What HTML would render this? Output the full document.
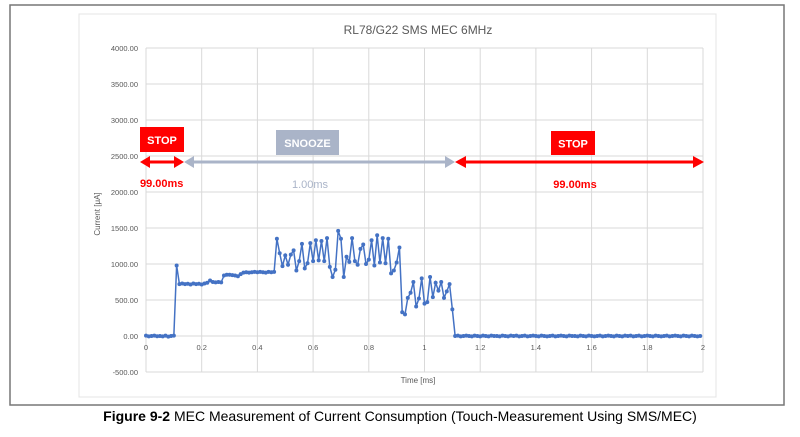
<!DOCTYPE html>
<html><head><meta charset="utf-8"><style>
body{margin:0;background:#fff;width:800px;height:432px;overflow:hidden;font-family:"Liberation Sans",sans-serif}
</style></head><body>
<svg id="chart" width="800" height="432" xmlns="http://www.w3.org/2000/svg" font-family="Liberation Sans, sans-serif">
<rect x="10" y="5" width="774" height="400" fill="#fff" stroke="#777" stroke-width="1.5"/>
<rect x="79" y="14" width="637" height="383" fill="#fff" stroke="#e4e4e4" stroke-width="1"/>
<text x="418" y="34" font-size="12" fill="#595959" text-anchor="middle">RL78/G22 SMS MEC 6MHz</text>
<g id="grid"></g><g id="axes"></g><g id="series"></g>
<text transform="translate(100,214) rotate(-90)" font-size="8" fill="#595959" text-anchor="middle">Current [μA]</text>
<text x="418" y="383" font-size="8" fill="#595959" text-anchor="middle">Time [ms]</text>
<g>
<rect x="140" y="127" width="44" height="25" fill="#ff0000"/>
<text x="162" y="144" font-size="11" font-weight="bold" fill="#fff" text-anchor="middle">STOP</text>
<rect x="276" y="130" width="63" height="25" fill="#aab4c8"/>
<text x="307.5" y="147" font-size="11" font-weight="bold" fill="#fff" text-anchor="middle">SNOOZE</text>
<rect x="551" y="131" width="44" height="24" fill="#ff0000"/>
<text x="573" y="147.5" font-size="11" font-weight="bold" fill="#fff" text-anchor="middle">STOP</text>
<g fill="#ff0000" stroke="#ff0000">
<line x1="146" y1="162" x2="178" y2="162" stroke-width="3"/>
<polygon points="140,162 150,156 150,168" stroke="none"/><polygon points="184,162 174,156 174,168" stroke="none"/></g>
<g fill="#aab4c8" stroke="#aab4c8">
<line x1="190" y1="162" x2="448" y2="162" stroke-width="3"/>
<polygon points="184,162 194,156 194,168" stroke="none"/><polygon points="455,162 445,156 445,168" stroke="none"/></g>
<g fill="#ff0000" stroke="#ff0000">
<line x1="462" y1="162" x2="697" y2="162" stroke-width="3"/>
<polygon points="455,162 466,156 466,168" stroke="none"/><polygon points="704,162 693,156 693,168" stroke="none"/></g>
<text x="140" y="187" font-size="11" font-weight="bold" fill="#ff0000">99.00ms</text>
<text x="310" y="188" font-size="11" fill="#aab4c8" text-anchor="middle">1.00ms</text>
<text x="575" y="188" font-size="11" font-weight="bold" fill="#ff0000" text-anchor="middle">99.00ms</text>
</g>
<text x="400" y="421" font-size="14" fill="#000" text-anchor="middle"><tspan font-weight="bold">Figure 9-2</tspan> MEC Measurement of Current Consumption (Touch-Measurement Using SMS/MEC)</text>
</svg>
<script>
const yTicks=[-500,0,500,1000,1500,2000,2500,3000,3500,4000];
const xTicks=[0,0.2,0.4,0.6,0.8,1,1.2,1.4,1.6,1.8,2];
const xTickLabels=["0","0.2","0.4","0.6","0.8","1","1.2","1.4","1.6","1.8","2"];
const timeStep=0.01;
const current=[5,-5,0,5,-3,0,-5,5,-8,0,5,
980,720,730,720,725,715,730,720,725,715,
730,740,770,750,745,750,745,840,850,850,
845,840,830,860,880,885,880,885,890,885,
890,885,880,890,885,890,
1350,1150,970,1120,990,1130,1190,910,1040,1280,
940,1010,1290,1040,1330,1050,1320,1040,1360,960,
820,920,1460,1350,820,1100,1030,1360,1040,990,
1210,1270,1000,1060,1330,980,1400,1020,1360,1010,
1350,870,910,1020,1230,330,300,530,600,750,
410,520,800,450,470,820,540,740,630,750,
530,620,720,370,
0,5,-5,0,5,0,-5,5,0,-5,
5,0,-5,5,0,0,-5,5,0,-5,
5,0,5,-5,0,5,-5,0,5,0,
-5,5,0,-5,0,5,-5,0,5,0,
-5,5,0,0,-5,5,0,-5,5,0,
-5,0,5,-5,0,5,0,-5,5,0,
-5,5,0,5,-5,0,5,-5,0,5,
0,-5,5,0,-5,0,5,-5,0,5,
0,-5,5,0,-5,5,0,-5,0];
const X0=146,X1=703,Y0=336,YPX=36/500;
const sx=v=>X0+(X1-X0)*v/2;
const sy=v=>Y0-v*YPX;
const NS="http://www.w3.org/2000/svg";
function mk(tag,attrs,parent,txt){const e=document.createElementNS(NS,tag);for(const k in attrs)e.setAttribute(k,attrs[k]);if(txt!==undefined)e.textContent=txt;parent.appendChild(e);return e;}
const grid=document.getElementById('grid'),axes=document.getElementById('axes'),ser=document.getElementById('series');
yTicks.forEach(t=>{
 const l=mk('line',{x1:X0,x2:X1,y1:sy(t),y2:sy(t),stroke:'#d9d9d9','stroke-width':1},grid);
 
 
 const tx=mk('text',{x:X0-8,y:sy(t)+3,'font-size':7.5,fill:'#595959','text-anchor':'end'},axes,t.toFixed(2));
 
 
});
xTicks.forEach((t,i)=>{
 const l=mk('line',{x1:sx(t),x2:sx(t),y1:sy(4000),y2:sy(-500),stroke:'#d9d9d9','stroke-width':1},grid);
 
 
 const tx=mk('text',{x:sx(t),y:sy(0)+14,'font-size':7.5,fill:'#595959','text-anchor':'middle'},axes,xTickLabels[i]);
 
 
});
const pts=current.map((v,i)=>sx(i*timeStep).toFixed(2)+','+sy(v).toFixed(2)).join(' ');
const pl=mk('polyline',{points:pts,fill:'none',stroke:'#4472c4','stroke-width':1.5},ser);


current.forEach((v,i)=>{
 const c=mk('circle',{cx:sx(i*timeStep),cy:sy(v),r:2,fill:'#4472c4'},ser);
 
 
});
</script>
</body></html>
